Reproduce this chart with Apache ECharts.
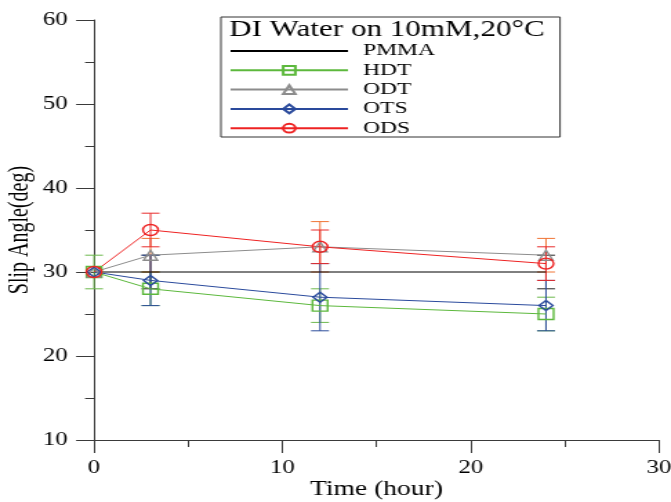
<!DOCTYPE html>
<html>
<head>
<meta charset="utf-8">
<script src="https://cdn.jsdelivr.net/npm/echarts@6/dist/echarts.min.js"></script>
<style>
  html, body { margin: 0; padding: 0; background: #fff; overflow: hidden; }
  /* the source figure is stretched sideways, so draw narrow and stretch it */
  #main { width: 486px; height: 502px; transform: scaleX(1.3807); transform-origin: 0 0; }
</style>
</head>
<body>
<div id="main"></div>
<script>
// 数据
var times = [0, 3, 12, 24];
var pmma = [30, 30, 30, 30];
var hdt = [30, 28, 26, 25];
var odt = [30, 32, 33, 32];
var ots = [30, 29, 27, 26];
var ods = [30, 35, 33, 31];
// 误差 (±)
var pmmaErr = [0, 2, 0, 2];
var hdtErr = [2, 2, 2, 2];
var odtErr = [0, 2, 3, 2];
var otsErr = [0, 3, 4, 3];
var odsErr = [0, 2, 2, 2];
var xTicks = [0, 10, 20, 30];
var yTicks = [10, 20, 30, 40, 50, 60];

var serif = 'Liberation Serif';
var axisColor = '#3a3a3a';

function points(vals) {
    return times.map(function (t, i) { return [t, vals[i]]; });
}
function errPoints(vals, errs) {
    return times.map(function (t, i) { return [t, vals[i] - errs[i], vals[i] + errs[i]]; });
}
function errorBar(color) {
    return function (params, api) {
        var x = api.value(0), lo = api.value(1), hi = api.value(2);
        if (hi - lo <= 0) {
            return null;
        }
        var top = api.coord([x, hi]);
        var bot = api.coord([x, lo]);
        var w = 6.5;
        var st = { stroke: color, lineWidth: 1 };
        return {
            type: 'group',
            children: [
                { type: 'line', shape: { x1: top[0], y1: top[1], x2: bot[0], y2: bot[1] }, style: st },
                { type: 'line', shape: { x1: top[0] - w, y1: top[1], x2: top[0] + w, y2: top[1] }, style: st },
                { type: 'line', shape: { x1: bot[0] - w, y1: bot[1], x2: bot[0] + w, y2: bot[1] }, style: st }
            ]
        };
    };
}
function lineSeries(name, vals, color, symbol, size) {
    return {
        name: name,
        type: 'line',
        data: points(vals),
        symbol: symbol,
        symbolSize: size,
        z: 3,
        lineStyle: { color: color, width: 1 },
        itemStyle: { color: 'rgba(0,0,0,0)', borderColor: color, borderWidth: 1.4 },
        emphasis: { disabled: true }
    };
}
function errSeries(name, vals, errs, color) {
    return {
        name: name,
        type: 'custom',
        renderItem: errorBar(color),
        data: errPoints(vals, errs),
        encode: { x: 0, y: [1, 2] },
        z: 2,
        silent: true
    };
}

var myChart = echarts.init(document.getElementById('main'));
myChart.setOption({
    animation: false,
    grid: { left: 68.1, right: 8.7, top: 20, bottom: 62, outerBoundsMode: 'none', containLabel: false },
    title: {
        text: 'DI Water on 10mM,20°C',
        left: 166,
        top: 19,
        padding: 0,
        textStyle: { fontFamily: serif, fontSize: 22.5, fontWeight: 'normal', color: '#000' }
    },
    graphic: [
        {
            type: 'rect',
            shape: { x: 160, y: 17, width: 245.6, height: 120 },
            style: { fill: 'none', stroke: '#333', lineWidth: 1 },
            z: 10
        }
    ],
    legend: {
        data: [
            { name: 'PMMA', itemStyle: { color: 'rgba(0,0,0,0)', borderColor: 'rgba(0,0,0,0)' } },
            'HDT', 'ODT', 'OTS', 'ODS'
        ],
        orient: 'vertical',
        left: 166,
        top: 42.5,
        padding: 0,
        itemWidth: 85,
        itemHeight: 11,
        itemGap: 2.3,
        selectedMode: false,
        textStyle: { fontFamily: serif, fontSize: 17, lineHeight: 17, color: '#000', padding: [0, 0, 0, 6] }
    },
    xAxis: {
        type: 'value',
        min: 0,
        max: 30,
        interval: 10,
        name: 'Time (hour)',
        nameLocation: 'middle',
        nameGap: 40,
        nameMoveOverlap: false,
        nameTextStyle: { fontFamily: serif, fontSize: 20, color: '#000' },
        axisLine: { show: true, lineStyle: { color: axisColor, width: 1 } },
        axisTick: { show: true, length: 13, lineStyle: { color: axisColor } },
        minorTick: { show: true, splitNumber: 2, length: 7, lineStyle: { color: axisColor } },
        axisLabel: {
            fontFamily: serif, fontSize: 18, color: '#000', margin: 19,
            formatter: function (v) { return xTicks.indexOf(v) >= 0 ? String(v) : ''; }
        },
        splitLine: { show: false }
    },
    yAxis: {
        type: 'value',
        min: 10,
        max: 60,
        interval: 10,
        name: 'Slip Angle(deg)',
        nameLocation: 'middle',
        nameGap: 43.6,
        nameMoveOverlap: false,
        nameTextStyle: { fontFamily: serif, fontSize: 20, color: '#000' },
        axisLine: { show: true, lineStyle: { color: axisColor, width: 1 } },
        axisTick: { show: true, length: 13, lineStyle: { color: axisColor } },
        minorTick: { show: true, splitNumber: 2, length: 6.5, lineStyle: { color: axisColor } },
        axisLabel: {
            fontFamily: serif, fontSize: 18, color: '#000', margin: 19,
            formatter: function (v) { return yTicks.indexOf(v) >= 0 ? String(v) : ''; }
        },
        splitLine: { show: false }
    },
    series: [
        errSeries('HDT err', hdt, hdtErr, '#6cb84c'),
        errSeries('PMMA err', pmma, pmmaErr, '#222222'),
        errSeries('ODT err', odt, odtErr, '#f07434'),
        errSeries('OTS err', ots, otsErr, '#2d4d9c'),
        errSeries('ODS err', ods, odsErr, '#e82a2a'),
        lineSeries('PMMA', pmma, '#000000', 'none', 0),
        lineSeries('HDT', hdt, '#5cb83c', 'rect', 11),
        lineSeries('ODT', odt, '#8c8c8c', 'triangle', 10),
        lineSeries('OTS', ots, '#2a4a9c', 'diamond', 10),
        lineSeries('ODS', ods, '#ee2222', 'circle', 11)
    ]
});
</script>
</body>
</html>
